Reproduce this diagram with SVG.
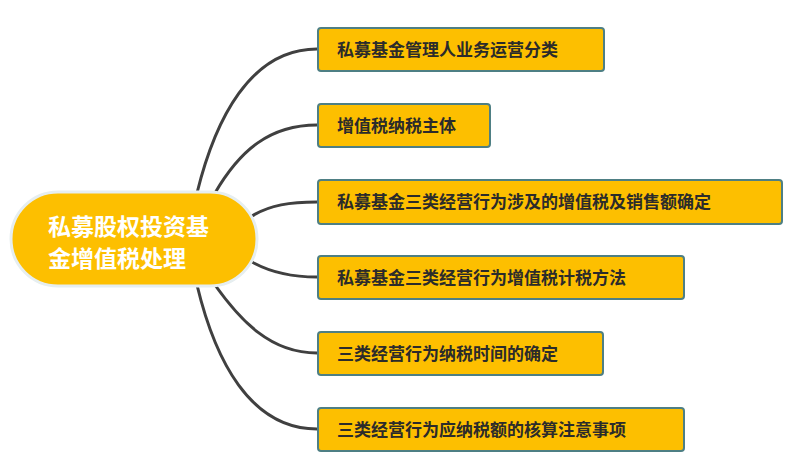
<svg xmlns="http://www.w3.org/2000/svg" width="789" height="466" viewBox="0 0 789 466">
<style>
.b{fill:#FDBF00;stroke:#4E7F84;stroke-width:2}
.t{font-family:"Liberation Sans","Noto Sans CJK SC",sans-serif;font-weight:bold;font-size:17px;fill:#2B2B2B}
.c{fill:none;stroke:#404040;stroke-width:3}
</style>
<g id="connectors">
<path class="c" d="M197,193 C215,120 250,49 317,49"/>
<path class="c" d="M215,193 C240,150 270,125 317,125"/>
<path class="c" d="M252,216 C270,205 290,202 317,202"/>
<path class="c" d="M252,262 C270,272 290,277 317,277"/>
<path class="c" d="M215,285 C240,320 270,353 317,353"/>
<path class="c" d="M197,285 C215,360 250,429 317,429"/>
</g>
<g id="center">
<rect x="11" y="192" width="246" height="94" rx="47" fill="#FDBF00" stroke="#E6EEF0" stroke-width="3"/>
<text x="48" y="235" font-family="Liberation Sans,Noto Sans CJK SC,sans-serif" font-weight="bold" font-size="23" fill="#fff">私募股权投资基</text>
<text x="48" y="267" font-family="Liberation Sans,Noto Sans CJK SC,sans-serif" font-weight="bold" font-size="23" fill="#fff">金增值税处理</text>
</g>
<g id="n1"><rect class="b" x="318" y="28" width="286" height="43" rx="3"/><text class="t" x="337" y="56">私募基金管理人业务运营分类</text></g>
<g id="n2"><rect class="b" x="318" y="104" width="172" height="43" rx="3"/><text class="t" x="337" y="132">增值税纳税主体</text></g>
<g id="n3"><rect class="b" x="318" y="180" width="464" height="44" rx="3"/><text class="t" x="337" y="208">私募基金三类经营行为涉及的增值税及销售额确定</text></g>
<g id="n4"><rect class="b" x="318" y="256" width="366" height="43" rx="3"/><text class="t" x="337" y="284">私募基金三类经营行为增值税计税方法</text></g>
<g id="n5"><rect class="b" x="318" y="332" width="285" height="43" rx="3"/><text class="t" x="337" y="360">三类经营行为纳税时间的确定</text></g>
<g id="n6"><rect class="b" x="318" y="408" width="366" height="43" rx="3"/><text class="t" x="337" y="436">三类经营行为应纳税额的核算注意事项</text></g>
</svg>
